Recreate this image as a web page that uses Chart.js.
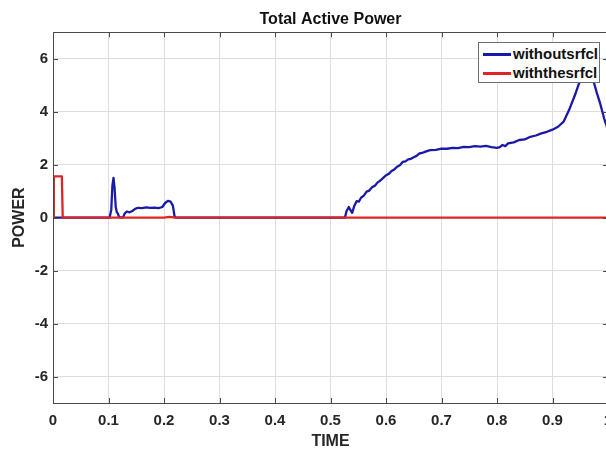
<!DOCTYPE html>
<html>
<head>
<meta charset="utf-8">
<script src="https://cdn.jsdelivr.net/npm/chart.js@4/dist/chart.umd.min.js"></script>
<style>
  html, body { margin: 0; padding: 0; background: #fff; overflow: hidden; }
  #wrap { position: relative; width: 606px; height: 450px; overflow: hidden; }
  #legend {
    position: absolute; left: 478px; top: 42px; width: 120px; height: 39px;
    border: 1px solid #6e6e6e; background: #fff;
    font: bold 15px "Liberation Sans", Arial, sans-serif; color: #111;
  }
  #legend .row { position: absolute; left: 0; height: 18px; line-height: 18px; white-space: nowrap; }
  #legend .swatch { position: absolute; left: 4px; top: 8px; width: 28px; height: 2.5px; }
  #legend .lbl { position: absolute; left: 34px; top: 0; }
</style>
</head>
<body>
<div id="wrap">
  <canvas id="powerChart" width="640" height="450"></canvas>
  <div id="legend">
    <div class="row" style="top:2px"><span class="swatch" style="background:#1a1aa8"></span><span class="lbl">withoutsrfcl</span></div>
    <div class="row" style="top:21px"><span class="swatch" style="background:#e02424"></span><span class="lbl">withthesrfcl</span></div>
  </div>
</div>
<script>
// tick labels
var xTicks = [0, 0.1, 0.2, 0.3, 0.4, 0.5, 0.6, 0.7, 0.8, 0.9, 1];
var yTicks = [-6, -4, -2, 0, 2, 4, 6];

// withoutsrfcl (blue)
var blueTime = [0, 0.102, 0.105, 0.107, 0.109, 0.111, 0.113, 0.115, 0.117, 0.119, 0.126,
    0.129, 0.133, 0.138, 0.143, 0.148, 0.153, 0.16, 0.168, 0.175, 0.183, 0.19, 0.197,
    0.202, 0.207, 0.212, 0.216, 0.219, 0.221, 0.526, 0.529, 0.533, 0.536, 0.539, 0.543,
    0.547, 0.551, 0.555, 0.56, 0.565, 0.57, 0.575, 0.58, 0.585, 0.59, 0.595, 0.6, 0.605,
    0.61, 0.615, 0.62, 0.625, 0.63, 0.635, 0.64, 0.645, 0.65, 0.655, 0.66, 0.665, 0.67,
    0.675, 0.68, 0.69, 0.7, 0.71, 0.72, 0.73, 0.74, 0.75, 0.76, 0.77, 0.78, 0.79, 0.8,
    0.805, 0.81, 0.815, 0.82, 0.83, 0.84, 0.85, 0.86, 0.87, 0.88, 0.89, 0.9, 0.91, 0.92,
    0.93, 0.94, 0.95, 0.957, 0.963, 0.968, 0.974, 0.98, 0.986, 0.993, 1.0];
var bluePower = [0, 0, 0.3, 1.2, 1.5, 1.1, 0.4, 0.2, 0.15, 0.02, 0,
    0.15, 0.23, 0.2, 0.25, 0.33, 0.37, 0.36, 0.39, 0.37, 0.38, 0.36, 0.4,
    0.55, 0.63, 0.6, 0.45, 0.05, 0, 0, 0.25, 0.4, 0.28, 0.18, 0.45,
    0.62, 0.6, 0.75, 0.83, 0.98, 1.02, 1.15, 1.2, 1.33, 1.4, 1.5, 1.6, 1.65,
    1.76, 1.82, 1.92, 1.98, 2.1, 2.12, 2.2, 2.22, 2.28, 2.33, 2.42, 2.44, 2.48,
    2.52, 2.55, 2.56, 2.6, 2.6, 2.63, 2.62, 2.67, 2.66, 2.7, 2.68, 2.71, 2.66, 2.63,
    2.66, 2.74, 2.7, 2.8, 2.84, 2.93, 2.95, 3.05, 3.1, 3.18, 3.24, 3.32, 3.43, 3.62,
    4.07, 4.6, 5.2, 5.75, 5.95, 5.8, 5.15, 4.7, 4.3, 3.75, 3.3];

// withthesrfcl (red)
var redTime = [0, 0.0015, 0.016, 0.0175, 0.2, 0.21, 0.22, 1.0];
var redPower = [0, 1.56, 1.56, 0, 0, 0.03, 0, 0];

function toPoints(xs, ys) {
    var pts = [];
    for (var i = 0; i < xs.length; i++) {
        pts.push({ x: xs[i], y: ys[i] });
    }
    return pts;
}

var fontFamily = '"Liberation Sans", Arial, sans-serif';

// box round the plot with inward tick marks, like the original figure
var framePlugin = {
    id: 'frame',
    afterDraw: function(chart) {
        var ctx = chart.ctx;
        var a = chart.chartArea;
        var xs = chart.scales.x;
        var ys = chart.scales.y;
        ctx.save();
        ctx.strokeStyle = '#4a4a4a';
        ctx.lineWidth = 1;
        ctx.beginPath();
        xTicks.forEach(function(v) {
            var px = Math.round(xs.getPixelForValue(v)) + 0.5;
            ctx.moveTo(px, a.bottom); ctx.lineTo(px, a.bottom - 5);
            ctx.moveTo(px, a.top); ctx.lineTo(px, a.top + 5);
        });
        yTicks.forEach(function(v) {
            var py = Math.round(ys.getPixelForValue(v)) + 0.5;
            ctx.moveTo(a.left, py); ctx.lineTo(a.left + 5, py);
            ctx.moveTo(a.right, py); ctx.lineTo(a.right - 5, py);
        });
        ctx.stroke();
        ctx.strokeRect(Math.round(a.left) + 0.5, Math.round(a.top) + 0.5,
            Math.round(a.right - a.left), Math.round(a.bottom - a.top));
        ctx.restore();
    }
};

var chart = new Chart(document.getElementById('powerChart'), {
    type: 'line',
    data: {
        datasets: [{
            label: 'withoutsrfcl',
            data: toPoints(blueTime, bluePower),
            borderColor: '#1a1aa8',
            borderWidth: 2.3,
            borderJoinStyle: 'round',
            pointRadius: 0,
            tension: 0,
            order: 1
        }, {
            label: 'withthesrfcl',
            data: toPoints(redTime, redPower),
            borderColor: '#e02424',
            borderWidth: 2.3,
            borderJoinStyle: 'round',
            pointRadius: 0,
            tension: 0,
            order: 0
        }]
    },
    options: {
        responsive: false,
        animation: false,
        events: [],
        layout: { padding: { left: 0, right: 32, top: 10, bottom: 0 } },
        plugins: {
            legend: { display: false },
            tooltip: { enabled: false },
            title: {
                display: true,
                text: 'Total Active Power',
                fullSize: false,
                color: '#111',
                font: { family: fontFamily, size: 16, weight: 'bold' },
                padding: { top: 0, bottom: 3 }
            }
        },
        scales: {
            x: {
                type: 'linear',
                min: 0,
                max: 1,
                afterBuildTicks: function(scale) {
                    scale.ticks = xTicks.map(function(v) { return { value: v }; });
                },
                afterFit: function(scale) { scale.height = 47; },
                ticks: {
                    color: '#262626',
                    padding: 9,
                    maxRotation: 0,
                    autoSkip: false,
                    font: { family: fontFamily, size: 15, weight: 'bold' },
                    callback: function(v) { return String(Math.round(v * 10) / 10); }
                },
                grid: { color: '#dedede', drawTicks: false },
                border: { display: false },
                title: {
                    display: true,
                    text: 'TIME',
                    color: '#262626',
                    font: { family: fontFamily, size: 16, weight: 'bold' },
                    padding: { top: 0, bottom: -1 }
                }
            },
            y: {
                min: -7,
                max: 7,
                afterBuildTicks: function(scale) {
                    scale.ticks = yTicks.map(function(v) { return { value: v }; });
                },
                afterFit: function(scale) { scale.width = 53; },
                ticks: {
                    color: '#262626',
                    padding: 5,
                    font: { family: fontFamily, size: 15, weight: 'bold' }
                },
                grid: { color: '#dedede', drawTicks: false },
                border: { display: false },
                title: {
                    display: true,
                    text: 'POWER',
                    color: '#262626',
                    font: { family: fontFamily, size: 16, weight: 'bold' },
                    padding: { top: 10, bottom: 0 }
                }
            }
        }
    },
    plugins: [framePlugin]
});
</script>
</body>
</html>
